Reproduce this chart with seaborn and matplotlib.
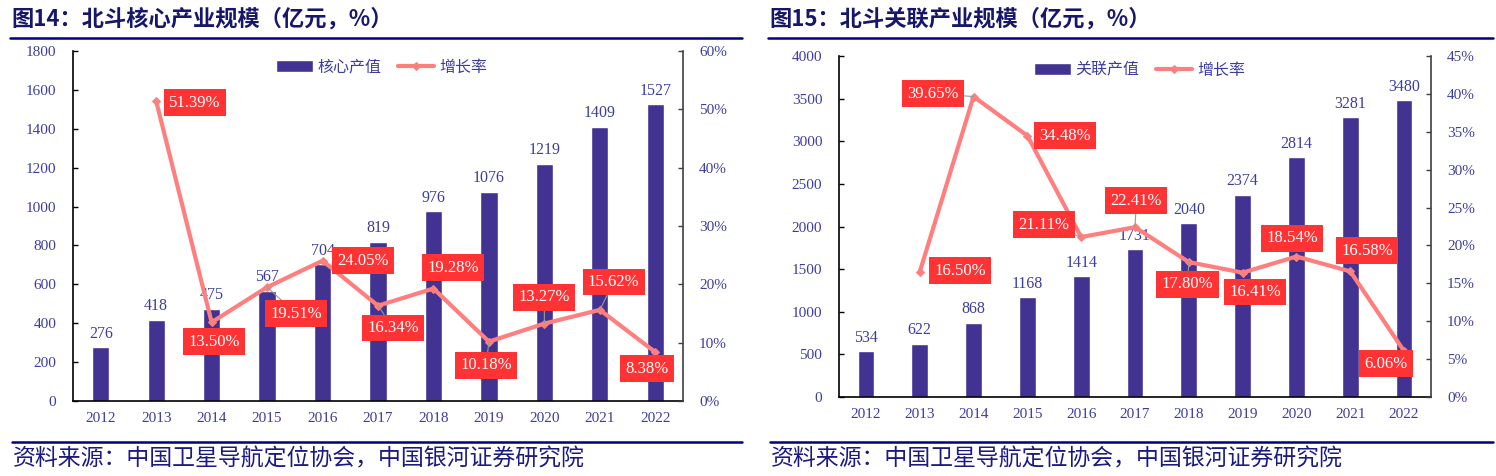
import numpy as np
import matplotlib
matplotlib.use('Agg')
import matplotlib.pyplot as plt
from matplotlib.lines import Line2D
from matplotlib.ticker import FuncFormatter
import seaborn as sns

years = ['2012', '2013', '2014', '2015', '2016', '2017', '2018', '2019', '2020', '2021', '2022']
core_value = [276, 418, 475, 567, 704, 819, 976, 1076, 1219, 1409, 1527]
core_growth = [51.39, 13.50, 19.51, 24.05, 16.34, 19.28, 10.18, 13.27, 15.62, 8.38]  # 2013-2022
related_value = [534, 622, 868, 1168, 1414, 1731, 2040, 2374, 2814, 3281, 3480]
related_growth = [16.50, 39.65, 34.48, 21.11, 22.41, 17.80, 16.41, 18.54, 16.58, 6.06]  # 2013-2022

# where the red growth boxes sit, offset from their point (in points), and whether a leader line is drawn
core_offsets = [(28, -1), (2, -14), (21, -19), (29, 0), (11, -16), (14, 15), (-2, -17), (0, 19), (10, 20), (-6, -12)]
core_leaders = [0, 0, 1, 0, 1, 0, 1, 1, 1, 0]
related_offsets = [(29, 1), (-29, 2), (27, 0), (-27, 9), (1, 19), (-1, -16), (9, -14), (-3, 13), (12, 15), (-13, -9)]
related_leaders = [0, 1, 0, 1, 1, 1, 0, 0, 0, 0]

BAR = '#423393'
LINE = '#FF7F7F'
BOX = '#FF3333'
TXT = '#3D3D9E'
NAVY = '#000080'
W, H = 1496, 476

sns.set_style('white')
plt.rcParams['font.family'] = ['Liberation Serif', 'Noto Sans CJK SC']
plt.rcParams['axes.unicode_minus'] = False


def panel(fig, rect, values, growth, offsets, leaders, bar_name, ymax, ystep, pmax, pstep, legend_xy):
    ax = fig.add_axes(rect)
    pos = np.arange(len(years))
    sns.barplot(x=years, y=values, ax=ax, color=BAR, saturation=1, width=0.31, label=bar_name)
    ax.bar_label(ax.containers[0], padding=4, fontsize=11.5, color=TXT)
    ax.set_xlim(-0.5, len(years) - 0.5)
    ax.set_ylim(0, ymax)
    ax.set_yticks(np.arange(0, ymax + 1, ystep))
    ax.set_xticks(pos, years)
    ax.set_xticks(pos[:-1] + 0.5, minor=True)
    ax.tick_params(axis='x', which='major', length=0, pad=8, labelsize=11, labelcolor=TXT)
    ax.tick_params(axis='x', which='minor', direction='in', length=3.6, width=1, color='black')
    ax.tick_params(axis='y', direction='in', length=3.6, width=1, color='black', pad=12,
                   labelsize=11, labelcolor=TXT, left=True)
    ax.set_xlabel('')
    ax.set_ylabel('')
    for s in ['top', 'right']:
        ax.spines[s].set_visible(False)
    for s in ['left', 'bottom']:
        ax.spines[s].set_color('black')
        ax.spines[s].set_linewidth(1.2)
    if ax.get_legend() is not None:
        ax.get_legend().remove()

    ax2 = ax.twinx()
    sns.lineplot(x=pos[1:], y=growth, ax=ax2, color=LINE, lw=3, marker='D', markersize=4.5,
                 markeredgecolor=LINE, label='增长率')
    ax2.set_ylim(0, pmax)
    ax2.set_yticks(np.arange(0, pmax + 0.1, pstep))
    ax2.yaxis.set_major_formatter(FuncFormatter(lambda v, p: f'{v:.0f}%'))
    ax2.tick_params(axis='y', direction='in', length=3.6, width=1, color='#404040', pad=11.5,
                    labelsize=11, labelcolor=TXT, right=True)
    ax2.set_ylabel('')
    for s in ['top', 'left', 'bottom']:
        ax2.spines[s].set_visible(False)
    ax2.spines['right'].set_color('#404040')
    ax2.spines['right'].set_linewidth(1.2)

    for x, g, off, lead in zip(pos[1:], growth, offsets, leaders):
        arrow = dict(arrowstyle='-', color='#999999', lw=0.8, shrinkA=0, shrinkB=0) if lead else None
        ax2.annotate(f'{g:.2f}%', xy=(x, g), xytext=off, textcoords='offset points',
                     ha='center', va='center', color='white', fontsize=12, zorder=6,
                     bbox=dict(boxstyle='square,pad=0.32', fc=BOX, ec='none'), arrowprops=arrow)

    h1, l1 = ax.get_legend_handles_labels()
    h2, l2 = ax2.get_legend_handles_labels()
    ax2.legend(h1 + h2, l1 + l2, loc='center left', bbox_to_anchor=legend_xy,
               bbox_transform=fig.transFigure, frameon=False, ncol=2,
               labelcolor=TXT, handlelength=2.3, handletextpad=0.3, columnspacing=1.0,
               borderpad=0, borderaxespad=0, prop={'family': ['Noto Sans CJK SC'], 'size': 11.5})
    return ax, ax2


fig = plt.figure(figsize=(W / 100, H / 100), dpi=100)

panel(fig, [73 / W, 1 - 401 / H, 610 / W, 350 / H], core_value, core_growth, core_offsets, core_leaders,
      '核心产值', 1800, 200, 60, 10, (276 / W, 1 - 67 / H))
panel(fig, [839 / W, 1 - 397 / H, 592 / W, 341 / H], related_value, related_growth, related_offsets,
      related_leaders, '关联产值', 4000, 500, 45, 5, (1034 / W, 1 - 70 / H))

for x0, x1, title in [(10, 742, '图14：北斗核心产业规模（亿元，%）'), (768, 1493, '图15：北斗关联产业规模（亿元，%）')]:
    fig.text((x0 + 1) / W, 1 - 19 / H, title, fontsize=16, fontweight='bold', color='#16166B',
             va='center', family=['Noto Sans CJK SC'])
    fig.add_artist(Line2D([x0 / W, x1 / W], [1 - 38 / H, 1 - 38 / H], transform=fig.transFigure,
                          color=NAVY, lw=1.8))
    fig.add_artist(Line2D([(x0 + 2) / W, x1 / W], [1 - 442 / H, 1 - 442 / H], transform=fig.transFigure,
                          color=NAVY, lw=1.8))
    fig.text((x0 + 3) / W, 1 - 459 / H, '资料来源：中国卫星导航定位协会，中国银河证券研究院', fontsize=16.5,
             style='italic', color='#1A1A80', va='center', family=['Noto Sans CJK SC'])

fig.savefig('out.png', dpi=100)
